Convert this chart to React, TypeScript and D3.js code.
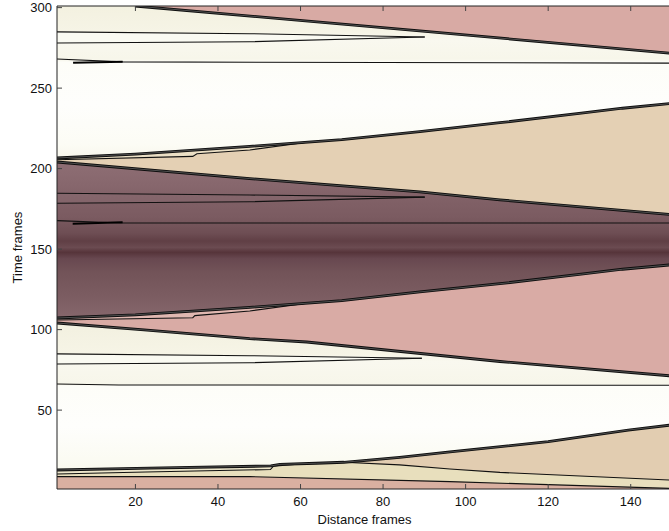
import React from "react";
import * as d3 from "d3";

type P = [number, number];

// ---- axis ticks ----
const xTicks = [20, 40, 60, 80, 100, 120, 140];
const yTicks = [50, 100, 150, 200, 250, 300];
const xDomain: P = [1, 150];
const tDomain: P = [1, 301];

// ---- contour boundaries: [distance frame, time frame] ----
const topPinkEdge: P[] = [[19.9, 301], [88.9, 285.5], [150, 271.6]];
const upperWedgeTop: P[] = [[1, 284.9], [47.7, 283.8], [90.1, 281.7]];
const upperWedgeBottom: P[] = [[1, 278], [47.7, 278.8], [90.1, 281.7]];
const upperLevelLine: P[] = [[1, 268.1], [16.9, 266.3], [150, 265.5]];
const upperLevelStub: P[] = [[4.9, 265.7], [16.9, 266.3]];
const upperRise: P[] = [[1, 206.6], [20, 209], [47.7, 213.8], [70, 218], [88.9, 223], [108.3, 228.5], [128, 234.4], [138, 237.5], [150, 240.5]];
const upperRiseWedge: P[] = [[1, 205.5], [33.9, 207.6], [34.9, 209.2], [47.7, 211.6], [62, 216.5]];
const darkTopEdge: P[] = [[1, 204.1], [47.7, 193.8], [88.9, 185.5], [108.3, 180.6], [150, 171.4]];
const darkWedgeTop: P[] = [[1, 184.7], [47.7, 183.6], [90.1, 182.3]];
const darkWedgeBottom: P[] = [[1, 178.5], [47.7, 179.4], [90.1, 182.3]];
const darkLevelLine: P[] = [[1, 167.7], [16.5, 166.2], [150, 166.2]];
const darkLevelStub: P[] = [[4.8, 165.7], [16.9, 166.7]];
const darkBottomEdge: P[] = [[1, 107.2], [20, 109.2], [47.7, 113.8], [70, 118], [88.9, 123.4], [108.3, 128.5], [128, 134.4], [138, 137.5], [150, 140.3]];
const pinkWedge: P[] = [[1, 106], [33.9, 107.4], [34.4, 108.7], [47.7, 111.6], [62, 116.5]];
const pinkBottomEdge: P[] = [[1, 104.1], [22.1, 99.8], [47.7, 94.4], [61.5, 92.3], [108.3, 80.2], [150, 71.2]];
const lowerWedgeTop: P[] = [[1, 84.9], [47.7, 83.8], [89.4, 82.2]];
const lowerWedgeBottom: P[] = [[1, 78.6], [47.7, 79.4], [89.4, 82.2]];
const lowerLevelLine: P[] = [[1, 66.2], [16, 65.6], [150, 65.4]];
const lowerRise: P[] = [[1, 12.8], [23.5, 14], [52.8, 15.3], [55, 16.3], [63.8, 17], [70.5, 17.6], [84, 20.6], [96.2, 24], [120, 30.4], [139.4, 37.6], [150, 40.8]];
const lowerRiseWedge: P[] = [[1, 10.3], [22.5, 11.6], [52.7, 13.1], [53.4, 15.1], [60, 16.6]];
const lowerFall: P[] = [[70.5, 17.6], [84, 16], [96.2, 13.4], [108.3, 11.3], [150, 6.5]];
const bottomPinkEdge: P[] = [[1, 8.7], [47.7, 8.7], [96.2, 5.6], [150, 1.3]];

// ---- colours ----
const backgroundStops: [number, string][] = [
  [301, "#f3f1e0"], [285, "#f6f4e6"], [280, "#f9f8ef"], [268, "#f7f6ea"], [266, "#fdfdf8"],
  [240, "#fefefc"], [215, "#fcfcf5"], [206, "#f8f7ec"],
  [100, "#f3f1e1"], [85, "#f6f4e6"], [80, "#f9f8ef"], [66, "#f7f6ea"], [65, "#fdfdf8"],
  [40, "#fefefc"], [20, "#fbfbf3"], [1, "#f6f4e6"],
];
const darkStops: [number, string][] = [
  [204, "#8e6e74"], [190, "#87676d"], [180, "#806066"], [170, "#7b5b61"], [160, "#6e4e54"],
  [155, "#603f45"], [151, "#6b4b51"], [148, "#56343a"], [144, "#684850"], [136, "#725358"],
  [120, "#7c5d62"], [107, "#86676c"],
];
const colTopPink = "#d8aaa4";
const colTan = "#e4d0b4";
const colTanWedge = "#ebdfc5";
const colPinkMid = "#d9aba5";
const colPinkWedge = "#e0b8b1";
const colBottomYellow = "#e8dfbd";
const colBottomTan = "#e2cdb1";
const colBottomWedge = "#ede6cb";
const colBottomPink = "#d9b0a1";

const W = 669;
const H = 531;
const PL = 57, PR = 672, PT = 6, PB = 489;

export default function App() {
  const x = d3.scaleLinear().domain(xDomain).range([PL, PR]);
  const y = d3.scaleLinear().domain(tDomain).range([PB, PT]);
  const line = d3.line<P>().x((d) => x(d[0])).y((d) => y(d[1]));
  const poly = (pts: P[]) => (line(pts) || "") + "Z";
  const rev = (a: P[]) => a.slice().reverse();
  const [x0, x1] = xDomain;
  const [t0, t1] = tDomain;

  const tOff = (t: number) => ((t1 - t) / (t1 - t0)) * 100 + "%";
  const darkY1 = y(204.1), darkY2 = y(107.2);
  const darkOff = (t: number) => ((204.1 - t) / (204.1 - 107.2)) * 100 + "%";

  const thick = [topPinkEdge, upperRise, darkTopEdge, darkBottomEdge, pinkBottomEdge, lowerRise];
  const thin = [
    upperWedgeTop, upperWedgeBottom, upperLevelLine, upperRiseWedge,
    darkWedgeTop, darkWedgeBottom, darkLevelLine, pinkWedge,
    lowerWedgeTop, lowerWedgeBottom, lowerLevelLine, lowerRiseWedge, lowerFall, bottomPinkEdge,
  ];
  const stubs = [upperLevelStub, darkLevelStub];

  const font = "'Liberation Sans', Arial, Helvetica, sans-serif";

  return (
    <>
      <style>{`html,body{margin:0;padding:0;overflow:hidden;background:#fff}`}</style>
      <svg width={W} height={H} style={{ display: "block" }} fontFamily={font}>
        <defs>
          <clipPath id="plotClip">
            <rect x={PL} y={PT} width={PR - PL} height={PB - PT} />
          </clipPath>
          <linearGradient id="bgGrad" gradientUnits="userSpaceOnUse" x1={0} y1={y(t1)} x2={0} y2={y(t0)}>
            {backgroundStops.map(([t, c], i) => (
              <stop key={i} offset={tOff(t)} stopColor={c} />
            ))}
          </linearGradient>
          <linearGradient id="darkGrad" gradientUnits="userSpaceOnUse" x1={0} y1={darkY1} x2={0} y2={darkY2}>
            {darkStops.map(([t, c], i) => (
              <stop key={i} offset={darkOff(t)} stopColor={c} />
            ))}
          </linearGradient>
        </defs>
        <g clipPath="url(#plotClip)">
          <rect x={PL} y={PT} width={PR - PL} height={PB - PT} fill="url(#bgGrad)" />
          {/* top pink */}
          <path d={poly([...topPinkEdge, [x1, t1]])} fill={colTopPink} />
          <path d={poly([...upperWedgeTop, ...rev(upperWedgeBottom)])} fill="#fafaf2" />
          {/* tan band */}
          <path d={poly([...upperRise, ...rev(darkTopEdge)])} fill={colTan} />
          <path d={poly([...upperRiseWedge, ...rev(upperRise.filter((p) => p[0] < 62))])} fill={colTanWedge} />
          {/* dark band */}
          <path d={poly([...darkTopEdge, ...rev(darkBottomEdge)])} fill="url(#darkGrad)" />
          <path d={poly([...darkWedgeTop, ...rev(darkWedgeBottom)])} fill="#876a70" opacity={0.5} />
          {/* pink band */}
          <path d={poly([...darkBottomEdge, ...rev(pinkBottomEdge)])} fill={colPinkMid} />
          <path d={poly([...pinkWedge, ...rev(darkBottomEdge.filter((p) => p[0] < 62))])} fill={colPinkWedge} />
          <path d={poly([...lowerWedgeTop, ...rev(lowerWedgeBottom)])} fill="#fafaf2" />
          {/* bottom bands */}
          <path d={poly([...lowerRise, [x1, t0], [x0, t0]])} fill={colBottomYellow} />
          <path d={poly([...lowerRise.filter((p) => p[0] >= 70.5), ...rev(lowerFall)])} fill={colBottomTan} />
          <path d={poly([...lowerRiseWedge, ...rev(lowerRise.filter((p) => p[0] < 60))])} fill={colBottomWedge} />
          <path d={poly([...bottomPinkEdge, [x1, t0], [x0, t0]])} fill={colBottomPink} />

          {/* contour lines */}
          {thin.map((l, i) => (
            <path key={"t" + i} d={line(l) || ""} fill="none" stroke="#111" strokeWidth={1.1} />
          ))}
          {stubs.map((l, i) => (
            <path key={"s" + i} d={line(l) || ""} fill="none" stroke="#000" strokeWidth={2} />
          ))}
          {thick.map((l, i) => (
            <g key={"k" + i}>
              <path d={line(l) || ""} fill="none" stroke="#0d0d0d" strokeWidth={2.8} />
              <path d={line(l) || ""} fill="none" stroke="#6b6b6b" strokeWidth={0.7} />
            </g>
          ))}
        </g>

        {/* axes box */}
        <line x1={PL} x2={PL} y1={PT} y2={PB} stroke="#222" strokeWidth={1} />
        <line x1={PL} x2={PR} y1={PT} y2={PT} stroke="#222" strokeWidth={1} />
        <line x1={PL} x2={PR} y1={PB} y2={PB} stroke="#222" strokeWidth={1} />
        {xTicks.map((v) => (
          <g key={"x" + v}>
            <line x1={x(v)} x2={x(v)} y1={PB} y2={PB - 5} stroke="#444" />
            <line x1={x(v)} x2={x(v)} y1={PT} y2={PT + 5} stroke="#444" />
            <text x={x(v)} y={506} textAnchor="middle" fontSize={13} fill="#111">{v}</text>
          </g>
        ))}
        {yTicks.map((v) => (
          <g key={"y" + v}>
            <line x1={PL} x2={PL + 5} y1={y(v)} y2={y(v)} stroke="#444" />
            <text x={52} y={y(v) + 4.6} textAnchor="end" fontSize={13} fill="#111">{v}</text>
          </g>
        ))}
        <text x={(PL + PR) / 2} y={524} textAnchor="middle" fontSize={13} fill="#111">Distance frames</text>
        <text transform={`translate(22,${(PT + PB) / 2}) rotate(-90)`} textAnchor="middle" fontSize={13} fill="#111">Time frames</text>
      </svg>
    </>
  );
}
